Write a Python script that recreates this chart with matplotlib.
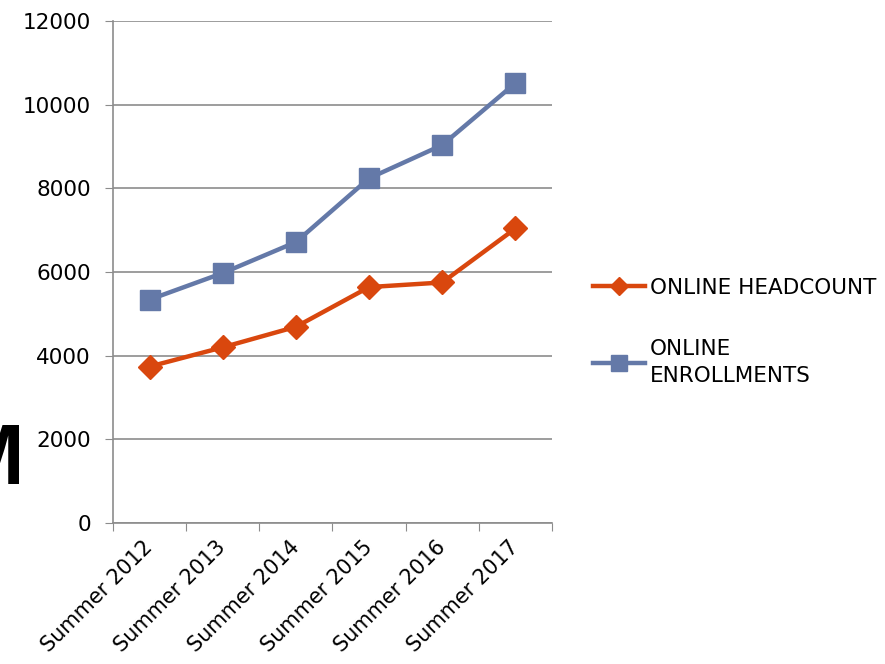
import matplotlib.pyplot as plt
import numpy as np

# data
years = ['Summer 2012', 'Summer 2013', 'Summer 2014', 'Summer 2015', 'Summer 2016', 'Summer 2017']
headcount = [3740, 4200, 4690, 5640, 5750, 7040]
enrollments = [5340, 5975, 6715, 8240, 9035, 10515]
yticks = [0, 2000, 4000, 6000, 8000, 10000, 12000]

plt.rcParams['font.family'] = ['DejaVu Sans']

fig = plt.figure(figsize=(8.85, 6.64), dpi=100)
ax = fig.add_axes([0.1277, 0.2123, 0.4960, 0.7561])

x = np.arange(len(years))
ax.plot(x, headcount, color='#D9470E', lw=3.2, marker='D', ms=12,
        label='ONLINE HEADCOUNT', zorder=3)
ax.plot(x, enrollments, color='#6479A8', lw=3.2, marker='s', ms=14,
        label='ONLINE\nENROLLMENTS', zorder=3)

ax.set_xlim(-0.5, len(years) - 0.5)
ax.set_ylim(0, 12000)
ax.set_yticks(yticks)
ax.set_yticklabels([str(v) for v in yticks], fontsize=15.5)
ax.yaxis.grid(True, color='#8c8c8c', lw=1.2)
ax.set_axisbelow(True)

# category axis: ticks between categories, labels at centres
ax.set_xticks(np.arange(-0.5, len(years)), minor=False)
ax.set_xticklabels([])
ax.set_xticks(x, minor=True)
ax.set_xticklabels(years, minor=True, rotation=45, ha='right', va='center',
                   rotation_mode='anchor', fontsize=15)
ax.tick_params(axis='x', which='minor', length=0, pad=15)
ax.tick_params(axis='x', which='major', length=6, color='#8c8c8c', direction='out')
ax.tick_params(axis='y', length=6, color='#8c8c8c', pad=10)

for s in ['top', 'right']:
    ax.spines[s].set_visible(False)
for s in ['left', 'bottom']:
    ax.spines[s].set_color('#8c8c8c')
    ax.spines[s].set_linewidth(1.2)

leg = fig.legend(loc='upper left', bbox_to_anchor=(593 / 885, 1 - 278 / 664), frameon=False,
                 fontsize=15.5, handlelength=2.4, handletextpad=0.25, labelspacing=1.9,
                 borderpad=0, borderaxespad=0, markerscale=0.8)
for t in leg.get_texts():
    t.set_linespacing(1.45)

# partial title letter cut off at the left edge
fig.text(24 / 885, 1 - 484 / 664, 'M', fontsize=62, fontweight='bold',
         family='Liberation Sans', ha='right', va='baseline')

fig.savefig('out.png', dpi=100)
